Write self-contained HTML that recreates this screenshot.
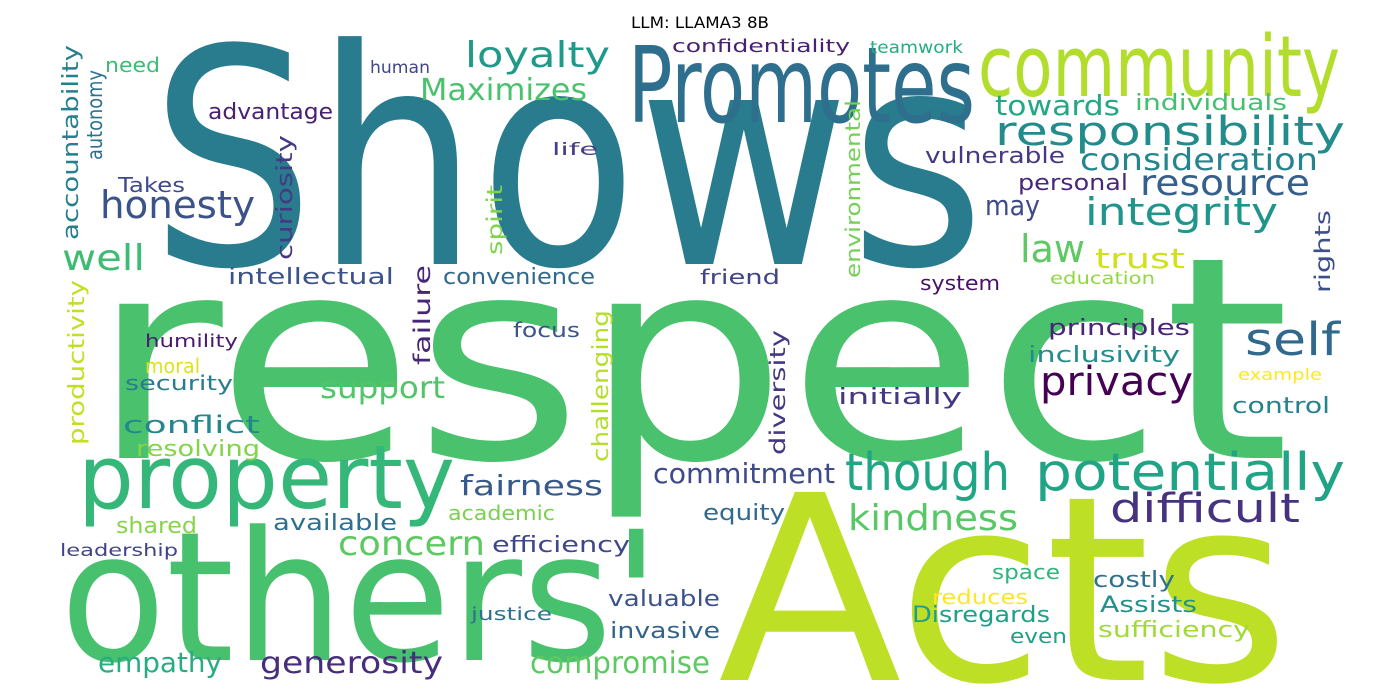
<!DOCTYPE html>
<html><head><meta charset="utf-8"><style>
html,body{margin:0;padding:0;background:#fff;width:1400px;height:700px;overflow:hidden}
svg{display:block}
text{font-family:"DejaVu Sans","Liberation Sans",sans-serif}
</style></head><body>
<svg id="wc" width="1400" height="700">
<text x="631" y="28" font-size="16" fill="#000" textLength="138" lengthAdjust="spacingAndGlyphs">LLM: LLAMA3 8B</text>
</svg>
<script>
// words, positions (left x, baseline y, width), font sizes, colors
const words = ["Shows","respect","Acts","others'","Promotes","community","property","though","potentially","responsibility","loyalty","Maximizes","honesty","well","integrity","resource","consideration","towards","individuals","law","trust","may","personal","vulnerable","self","privacy","principles","inclusivity","example","control","difficult","kindness","commitment","fairness","concern","support","efficiency","equity","academic","available","shared","leadership","empathy","generosity","compromise","invasive","valuable","justice","reduces","Disregards","even","space","costly","Assists","sufficiency","focus","humility","moral","security","conflict","resolving","intellectual","convenience","friend","system","education","initially","advantage","Takes","need","human","confidentiality","teamwork","life"];
const xs = [150,90,718,60,628,978,78,845,1035,995,465,420,100,62,1085,1140,1080,995,1135,1020,1095,985,1018,925,1245,1040,1048,1028,1238,1232,1110,848,653,460,338,320,492,703,448,273,116,60,98,260,530,610,608,471,932,912,1010,992,1093,1100,1098,513,145,145,125,123,136,228,443,700,920,1050,838,208,118,105,370,672,870,552];
const ys = [264,458,680,660,122,96,508,490,490,145,67,100,218,270,225,195,170,115,110,262,268,215,190,163,355,395,335,362,380,413,522,530,483,495,555,398,552,520,520,530,533,556,672,673,673,638,606,620,604,622,643,579,587,612,637,337,347,373,390,433,456,284,284,284,290,284,404,119,192,72,73,52,53,155];
const ws = [835,1200,572,600,347,362,377,165,310,350,145,167,155,83,193,170,238,125,152,65,90,55,110,140,95,153,142,152,84,98,190,170,182,143,147,125,138,82,107,124,81,118,124,183,180,110,112,81,96,138,57,68,82,97,152,67,93,55,108,137,124,166,152,80,80,105,124,125,67,55,60,178,93,46];
const fs = [300,282,258,180,105,85,88,52,52,40,36,30,38,36,38,36,30,28,22,38,28,28,22,22,45,40,22,22,16,22,40,36,28,28,34,30,22,22,20,22,22,17,28,30,30,22,22,18,20,22,20,20,22,22,22,20,18,20,20,24,22,22,22,20,20,17,22,22,20,20,17,18,17,17];
const colors = ["#297b8e","#4ac16d","#bddf26","#48c16e","#2e6f8e","#b2dd2d","#35b779","#21a685","#20a486","#228c8d","#1f9a8a","#4ac16d","#3b528b","#3fbc73","#1f958b","#355f8d","#25858e","#22a884","#44bf70","#5ec962","#d0e11c","#3e4989","#482878","#443983","#31688e","#440154","#482475","#228d8d","#fde725","#26828e","#46327e","#58c765","#3e4a89","#38598c","#5ec962","#52c569","#3f4788","#31688e","#7ad151","#2d708e","#86d549","#414487","#27ad81","#472d7b","#5ec962","#33638d","#3b528b","#2c728e","#fde725","#1f9e89","#1fa188","#2fb47c","#2c728e","#21918c","#a0da39","#3a548c","#481b6d","#dde318","#287c8e","#24878e","#84d44b","#3b528b","#31688e","#414487","#471365","#90d743","#453781","#482173","#3e4a89","#3dbc74","#404688","#482173","#25ac82","#433e85"];
// vertical words: right edge x (baseline), bottom y, length
const vWords = ["accountability","autonomy","curiosity","spirit","environmental","rights","failure","productivity","challenging","diversity"];
const vXs = [78,102,292,502,860,1330,430,84,608,785];
const vYs = [240,160,260,255,278,293,365,445,462,455];
const vLens = [195,90,125,70,178,83,100,165,152,125];
const vFs = [22,21,22,21,20,21,23,22,22,21];
const vColors = ["#277f8e","#2c728e","#443a83","#7fd34e","#73d056","#3c4f8a","#482677","#c2df23","#b5de2b","#453882"];

const svg = document.getElementById('wc');
const NS = 'http://www.w3.org/2000/svg';
for (let i = 0; i < words.length; i++) {
  const t = document.createElementNS(NS, 'text');
  t.setAttribute('x', xs[i]);
  t.setAttribute('y', ys[i]);
  t.setAttribute('font-size', fs[i]);
  t.setAttribute('fill', colors[i]);
  t.setAttribute('textLength', ws[i]);
  t.setAttribute('lengthAdjust', 'spacingAndGlyphs');
  t.textContent = words[i];
  
  
  svg.appendChild(t);
}
for (let i = 0; i < vWords.length; i++) {
  const t = document.createElementNS(NS, 'text');
  t.setAttribute('transform', 'translate(' + vXs[i] + ',' + vYs[i] + ') rotate(-90)');
  t.setAttribute('x', 0);
  t.setAttribute('y', 0);
  t.setAttribute('font-size', vFs[i]);
  t.setAttribute('fill', vColors[i]);
  t.setAttribute('textLength', vLens[i]);
  t.setAttribute('lengthAdjust', 'spacingAndGlyphs');
  t.textContent = vWords[i];
  
  
  svg.appendChild(t);
}
</script>
</body></html>
